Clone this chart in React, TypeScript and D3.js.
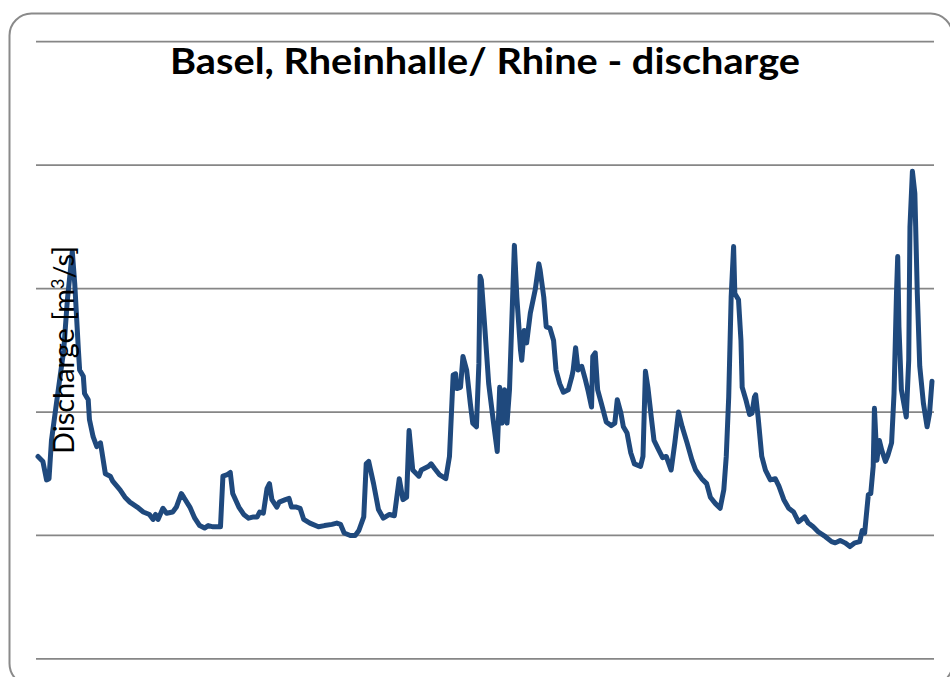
import React from "react";
import * as d3 from "d3";

// Day index (0 = first day of the two-year record) and discharge in m³/s
const days: number[] = [
  0, 4, 7, 9, 11, 16, 21, 24, 28, 30, 33, 34, 37, 38, 41, 42, 45, 48, 51, 52,
  55, 59, 61, 67, 71, 75, 81, 86, 91, 94, 96, 98, 102, 105, 110, 113, 117, 119, 124, 128,
  132, 136, 139, 143, 149, 151, 154, 157, 159, 164, 168, 172, 176, 179, 181, 184, 187, 189, 191, 195,
  197, 202, 205, 207, 211, 214, 217, 222, 229, 234, 240, 244, 247, 250, 255, 259, 262, 266, 268, 270,
  274, 278, 282, 287, 291, 295, 298, 301, 303, 306, 311, 313, 319, 321, 324, 328, 333, 336, 339, 341,
  342, 345, 347, 350, 353, 355, 358, 360, 361, 362, 365, 368, 372, 375, 377, 379, 381, 383, 385, 389,
  391, 394, 395, 397, 399, 402, 406, 409, 410, 413, 415, 418, 421, 423, 426, 429, 433, 436, 437, 439,
  441, 444, 447, 449, 452, 453, 455, 457, 460, 464, 468, 471, 473, 476, 478, 481, 484, 487, 492, 494,
  496, 498, 501, 503, 507, 510, 513, 517, 520, 523, 526, 530, 534, 537, 542, 546, 549, 553, 557, 560,
  562, 564, 566, 568, 569, 572, 574, 575, 578, 581, 583, 585, 586, 588, 591, 594, 598, 602, 605, 609,
  613, 617, 621, 626, 629, 633, 637, 643, 648, 651, 655, 659, 663, 667, 671, 673, 675, 678, 680, 682,
  683, 685, 687, 689, 692, 694, 697, 699, 701, 702, 703, 705, 709, 711, 712, 714, 716, 718, 720, 723,
  726, 728, 730,
];

const discharge: number[] = [
  1640, 1600, 1450, 1460, 1770, 2140, 2500, 2910, 3300, 3040, 2500, 2340, 2290, 2150, 2100, 1940, 1800, 1720, 1750, 1690,
  1500, 1480, 1440, 1370, 1310, 1270, 1230, 1190, 1170, 1130, 1170, 1130, 1220, 1180, 1190, 1230, 1340, 1310, 1230, 1140,
  1080, 1060, 1080, 1070, 1070, 1480, 1490, 1510, 1340, 1230, 1170, 1140, 1150, 1150, 1190, 1180, 1380, 1420, 1290, 1230,
  1270, 1290, 1300, 1230, 1230, 1220, 1130, 1100, 1070, 1080, 1090, 1100, 1090, 1020, 1000, 1000, 1040, 1150, 1580, 1600,
  1420, 1210, 1140, 1170, 1160, 1460, 1290, 1310, 1850, 1530, 1480, 1530, 1560, 1580, 1540, 1490, 1460, 1640, 2300, 2310,
  2190, 2200, 2450, 2340, 2070, 1910, 1880, 2390, 3100, 3070, 2660, 2230, 1910, 1680, 2200, 1910, 2180, 1910, 2180, 3350,
  2930, 2500, 2420, 2660, 2560, 2800, 2990, 3200, 3150, 2930, 2690, 2680, 2580, 2340, 2230, 2160, 2180, 2290, 2340, 2520,
  2340, 2370, 2260, 2180, 2040, 2450, 2480, 2180, 2070, 1920, 1890, 1910, 2100, 1990, 1880, 1830, 1670, 1580, 1560, 1640,
  2330, 2200, 1940, 1770, 1690, 1630, 1640, 1530, 1750, 2000, 1880, 1750, 1610, 1530, 1460, 1420, 1310, 1260, 1220, 1370,
  1640, 2120, 2930, 3340, 2960, 2910, 2580, 2200, 2100, 1980, 1990, 2120, 2140, 1960, 1640, 1530, 1450, 1460, 1400, 1290,
  1220, 1190, 1110, 1150, 1100, 1070, 1030, 990, 950, 940, 960, 940, 910, 940, 950, 1040, 1020, 1330, 1340, 1560,
  2030, 1610, 1770, 1690, 1600, 1650, 1750, 2150, 2960, 3260, 2690, 2180, 1960, 2420, 3500, 3950, 3770, 2960, 2370, 2070,
  1880, 1990, 2250,
];

const gridValues: number[] = [0, 1000, 2000, 3000, 4000, 5000];

const TITLE = "Basel, Rheinhalle/ Rhine - discharge";

export default function App() {
  const W = 950;
  const H = 677;
  const x = d3.scaleLinear().domain([0, 730]).range([38, 932]);
  const y = d3.scaleLinear().domain([0, 5000]).range([658.9, 41.7]);

  const data = days.map((d, i) => ({ d, v: discharge[i] }));
  const line = d3
    .line<{ d: number; v: number }>()
    .x((p) => x(p.d))
    .y((p) => y(p.v));

  return (
    <svg
      width={W}
      height={H}
      style={{ position: "absolute", left: 0, top: 0, background: "#fff" }}
    >
      <rect
        x={9.5}
        y={13.5}
        width={943}
        height={672}
        rx={22}
        ry={22}
        fill="#fff"
        stroke="#8a8a8a"
        strokeWidth={2}
      />
      {gridValues.map((g) => (
        <line
          key={g}
          x1={36}
          x2={934}
          y1={y(g)}
          y2={y(g)}
          stroke="#868686"
          strokeWidth={1.75}
        />
      ))}
      <path
        d={line(data) || ""}
        fill="none"
        stroke="#1F497D"
        strokeWidth={5}
        strokeLinejoin="round"
        strokeLinecap="round"
      />
      <text
        x={485}
        y={74}
        textAnchor="middle"
        fontFamily="Lato, 'Open Sans', sans-serif"
        fontWeight="bold"
        fontSize={36}
        textLength={630}
        lengthAdjust="spacingAndGlyphs"
        fill="#000"
      >
        {TITLE}
      </text>
      <text
        transform="translate(74,350) rotate(-90)"
        textAnchor="middle"
        fontFamily="Lato, 'Open Sans', sans-serif"
        fontSize={29}
        textLength={208}
        lengthAdjust="spacingAndGlyphs"
        fill="#000"
      >
        Discharge [m
        <tspan dy={-10} fontSize={18}>
          3
        </tspan>
        <tspan dy={10}>/s]</tspan>
      </text>
    </svg>
  );
}
